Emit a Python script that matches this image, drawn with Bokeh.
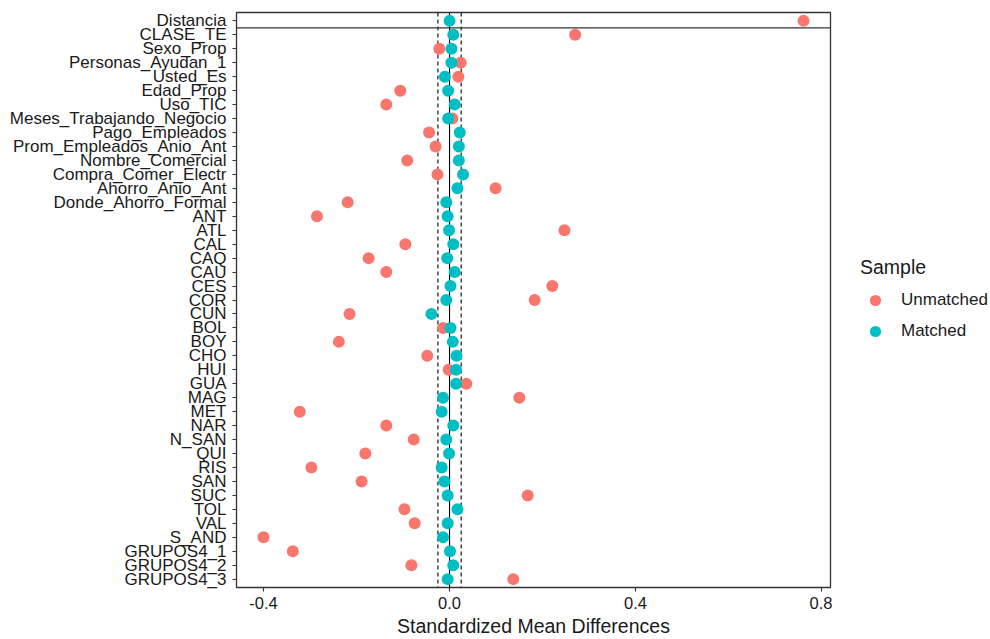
from bokeh.plotting import figure
from bokeh.layouts import row
from bokeh.models import (FactorRange, Range1d, Span, Legend, LegendItem,
                          FixedTicker, PrintfTickFormatter, ColumnDataSource)
from bokeh.embed import file_html
from bokeh.resources import INLINE

# Covariates, listed top to bottom
variables = [
    "Distancia", "CLASE_TE", "Sexo_Prop", "Personas_Ayudan_1", "Usted_Es",
    "Edad_Prop", "Uso_TIC", "Meses_Trabajando_Negocio", "Pago_Empleados",
    "Prom_Empleados_Anio_Ant", "Nombre_Comercial", "Compra_Comer_Electr",
    "Ahorro_Anio_Ant", "Donde_Ahorro_Formal", "ANT", "ATL", "CAL", "CAQ",
    "CAU", "CES", "COR", "CUN", "BOL", "BOY", "CHO", "HUI", "GUA", "MAG",
    "MET", "NAR", "N_SAN", "QUI", "RIS", "SAN", "SUC", "TOL", "VAL", "S_AND",
    "GRUPOS4_1", "GRUPOS4_2", "GRUPOS4_3",
]

# Standardized mean differences before matching
smd_unmatched = [
    0.761, 0.270, -0.022, 0.024, 0.019,
    -0.106, -0.136, 0.006, -0.044,
    -0.030, -0.091, -0.026,
    0.099, -0.219, -0.285, 0.247, -0.095, -0.174,
    -0.136, 0.221, 0.183, -0.215, -0.014, -0.238, -0.048, -0.002, 0.036, 0.150,
    -0.322, -0.136, -0.077, -0.181, -0.297, -0.189, 0.168, -0.097, -0.075, -0.400,
    -0.337, -0.082, 0.137,
]

# Standardized mean differences after matching
smd_matched = [
    0.000, 0.008, 0.004, 0.004, -0.010,
    -0.003, 0.011, -0.003, 0.022,
    0.020, 0.020, 0.029,
    0.017, -0.007, -0.004, -0.001, 0.008, -0.005,
    0.011, 0.002, -0.007, -0.039, 0.002, 0.007, 0.015, 0.014, 0.014, -0.014,
    -0.017, 0.008, -0.007, -0.001, -0.017, -0.011, -0.004, 0.017, -0.004, -0.014,
    0.001, 0.008, -0.004,
]

x_ticks = [-0.4, 0.0, 0.4, 0.8]
threshold = 0.025

sample_labels = ["Unmatched", "Matched"]
sample_colors = ["#F8766D", "#00BFC4"]

FONT = "Liberation Sans"
TEXT = "#1a1a1a"

lo = min(smd_unmatched + smd_matched)
hi = max(smd_unmatched + smd_matched)
pad = 0.05 * (hi - lo)

p = figure(
    width=832, height=639,
    x_range=Range1d(lo - pad, hi + pad),
    y_range=FactorRange(factors=variables[::-1], range_padding=0.1,
                        range_padding_units="absolute"),
    output_backend="svg", toolbar_location=None,
    min_border_left=236, min_border_right=2,
    min_border_top=12, min_border_bottom=52,
)
p.background_fill_color = "white"
p.border_fill_color = "white"
p.outline_line_color = "#333333"
p.outline_line_width = 1.3
p.xgrid.visible = False
p.ygrid.visible = False

# Reference lines: zero and the balance threshold
p.add_layout(Span(location=0, dimension="height", line_color="black",
                  line_width=1.1, level="underlay"))
for t in (-threshold, threshold):
    p.add_layout(Span(location=t, dimension="height", line_color="black",
                      line_width=1.1, line_dash="4 3", level="underlay"))

# Separator below the distance measure (first row)
p.add_layout(Span(location=len(variables) - 1, dimension="width",
                  line_color="#333333", line_width=1.3))

src_u = ColumnDataSource(dict(x=smd_unmatched, y=variables))
src_m = ColumnDataSource(dict(x=smd_matched, y=variables))
p.scatter("x", "y", source=src_u, size=12, fill_color=sample_colors[0],
          line_color=None)
p.scatter("x", "y", source=src_m, size=12, fill_color=sample_colors[1],
          line_color=None)

# Axes
p.xaxis.ticker = FixedTicker(ticks=x_ticks)
p.xaxis.formatter = PrintfTickFormatter(format="%.1f")
p.xaxis.axis_label = "Standardized Mean Differences"
p.xaxis.axis_label_text_font = FONT
p.xaxis.axis_label_text_font_size = "19.5px"
p.xaxis.axis_label_text_font_style = "normal"
p.xaxis.axis_label_text_color = TEXT
p.xaxis.axis_label_standoff = 3
p.xaxis.major_label_standoff = 5

for ax in (p.xaxis, p.yaxis):
    ax.axis_line_color = None
    ax.major_tick_in = 0
    ax.major_tick_out = 4
    ax.major_tick_line_color = "#333333"
    ax.major_tick_line_width = 1.1
    ax.minor_tick_line_color = None
    ax.major_label_text_font = FONT
    ax.major_label_text_color = TEXT
p.xaxis.major_label_text_font_size = "16.5px"
p.yaxis.major_label_text_font_size = "17px"
p.yaxis.major_label_standoff = 6

# Side panel holding the legend; its key renderers carry a single NaN point
# so that nothing is drawn except the legend swatches
lg = figure(
    width=158, height=639, x_range=Range1d(0, 1), y_range=Range1d(0, 1),
    output_backend="svg", toolbar_location=None,
    min_border=0, outline_line_color=None,
)
lg.axis.visible = False
lg.grid.visible = False
nan = float("nan")
key_u = lg.scatter(x=[nan], y=[nan], size=12, fill_color=sample_colors[0],
                   line_color=None)
key_m = lg.scatter(x=[nan], y=[nan], size=12, fill_color=sample_colors[1],
                   line_color=None)

legend = Legend(
    items=[LegendItem(label=sample_labels[0], renderers=[key_u]),
           LegendItem(label=sample_labels[1], renderers=[key_m])],
    title="Sample", location=(28, 242),
    title_text_font=FONT, title_text_font_size="19.5px",
    title_text_font_style="normal", title_text_color=TEXT,
    title_standoff=7,
    label_text_font=FONT, label_text_font_size="17px",
    label_text_color=TEXT,
    glyph_width=30, glyph_height=28, label_height=28, label_standoff=11,
    spacing=3, padding=0, margin=0,
    border_line_color=None, background_fill_alpha=0,
)
lg.add_layout(legend, "center")

layout = row(p, lg, spacing=0)
open("out.html", "w").write(file_html(layout, INLINE))
